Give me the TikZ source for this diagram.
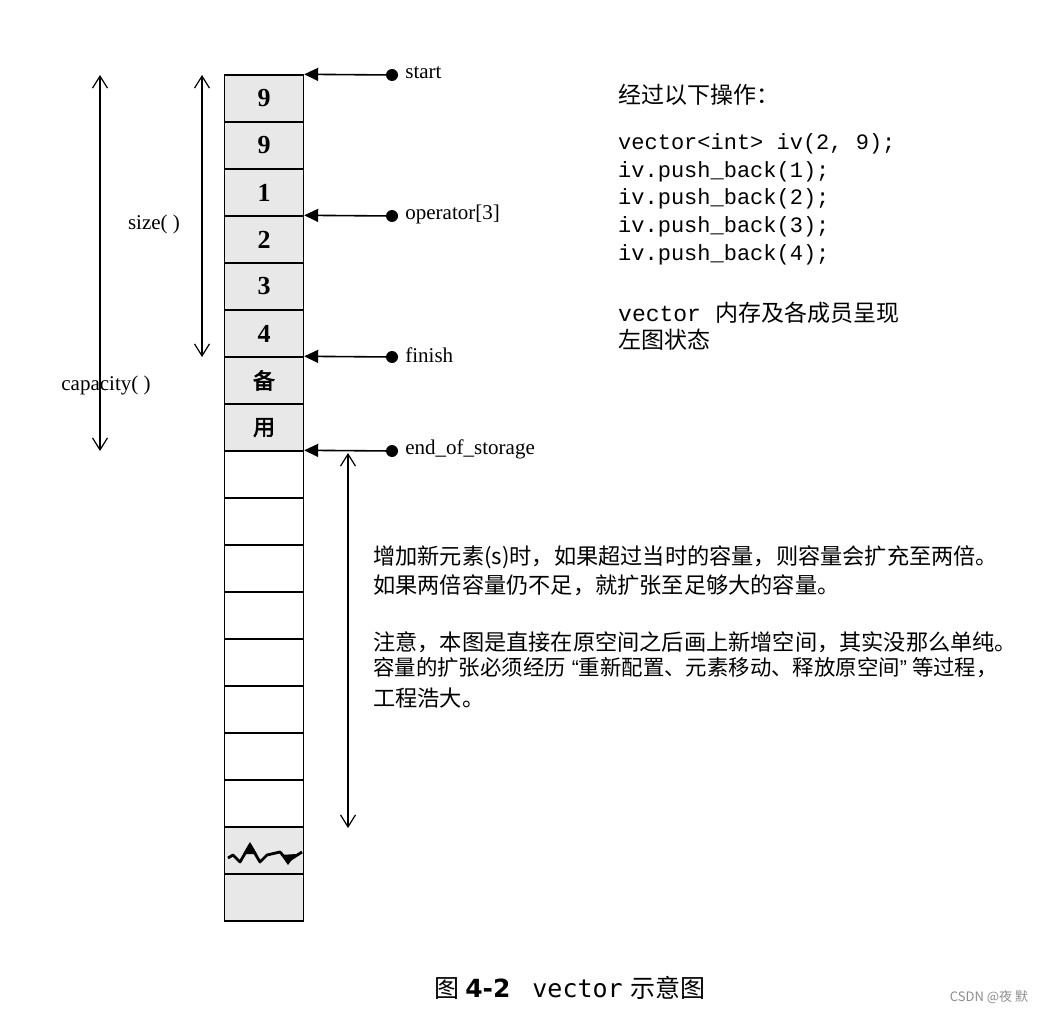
\documentclass[tikz,border=0pt]{standalone}
\usepackage{fontspec}
\setmainfont{Liberation Serif}
\newfontfamily\cjk{Noto Sans CJK SC}
\newfontfamily\cjkbold[FakeBold=2.5]{Noto Sans CJK SC}
\newfontfamily\codefont{Liberation Mono}
\newfontfamily\quotefont{Liberation Sans}
\newfontfamily\capsans{DejaVu Sans}
\newfontfamily\capmono{DejaVu Sans Mono}
\usepackage{tikz}
\usetikzlibrary{positioning, arrows.meta}

\tikzset{
  cell/.style={draw, line width=1.4pt, minimum width=79pt, minimum height=47pt, inner sep=0pt},
  used/.style={fill=black!9},
  ptrdot/.style={circle, fill, inner sep=0pt, minimum size=12pt},
  ptr/.style={line width=1.6pt, -{Triangle[length=14pt,width=13pt]}},
  dimarrow/.style={line width=1.2pt, {Straight Barb[length=12pt,width=15pt]}-{Straight Barb[length=12pt,width=15pt]}},
  ptrlabel/.style={font=\fontsize{21}{24}\selectfont, inner sep=0pt},
  note/.style={font=\cjk\fontsize{22.2}{26}\selectfont, anchor=west, inner sep=0pt},
  codeline/.style={font=\codefont\fontsize{22}{26}\selectfont, anchor=base west, inner sep=0pt}
}

\begin{document}
\begin{tikzpicture}[x=1pt, y=-1pt]
    \useasboundingbox (0,0) rectangle (1044,1011);

    % Draw the used cells
    \foreach \i/\v in {1/9, 2/9, 3/1, 4/2, 5/3, 6/4}
      \node[cell, used, font=\bfseries\fontsize{26}{26}\selectfont] (c\i) at (264, {51.5+47*\i}) {\v};
    \foreach \i/\v in {7/备, 8/用}
      \node[cell, used, font=\cjkbold\fontsize{22}{22}\selectfont] (c\i) at (264, {51.5+47*\i}) {\v};

    % Draw the free cells
    \foreach \i in {9,...,16}
      \node[cell] (c\i) at (264, {51.5+47*\i}) {};
    \foreach \i in {17, 18}
      \node[cell, used] (c\i) at (264, {51.5+47*\i}) {};

    % Break mark
    \draw[line width=2.8pt, line join=round] (228,858) -- (233,855) -- (240,862) -- (250,845) -- (260,862)
      -- (267,855) -- (280,852) -- (288,861) -- (302,852);
    \fill (243,854) -- (250,842) -- (257,854) -- cycle;
    \fill (281,855) -- (288,865) -- (296,854) -- cycle;

    % Pointers
    \foreach \n/\y/\c/\t in {start/75/1/start, op/216/4/operator[3], finish/357/7/finish, eos/451/9/end\_of\_storage} {
      \node[ptrdot] (p\n) at (392,\y) {};
      \node[ptrlabel, right=7pt of p\n, yshift=2pt] (l\n) {\t};
      \draw[ptr] (p\n) -- (c\c.north east);
    }

    % Sizes
    \coordinate (capT) at (100,75);
    \coordinate (capB) at (100,451);
    \draw[dimarrow] (capT) -- (capB);
    \node[ptrlabel] (lcap) at (106,385) {capacity( )};
    \coordinate (sizeT) at (202,75);
    \coordinate (sizeB) at (202,357);
    \draw[dimarrow] (sizeT) -- (sizeB);
    \node[ptrlabel] (lsize) at (154,224) {size( )};
    \coordinate (growT) at (348,453);
    \coordinate (growB) at (348,828);
    \draw[dimarrow] (growT) -- (growB);

    % Text on the right
    \node[note, font=\cjk\fontsize{23}{26}\selectfont] (ops) at (618,95) {经过以下操作：};
    \foreach \j/\t in {0/{vector<int> iv(2, 9);}, 1/{iv.push\_back(1);}, 2/{iv.push\_back(2);}, 3/{iv.push\_back(3);}, 4/{iv.push\_back(4);}}
      \node[codeline] (code\j) at (618, {150+27.5*\j}) {\t};
    \node[note, font=\cjk\fontsize{23}{26}\selectfont] (state1) at (618,313) {{\codefont vector}\hspace{14pt}内存及各成员呈现};
    \node[note, font=\cjk\fontsize{23}{26}\selectfont] (state2) at (618,340) {左图状态};

    \node[note] (n1) at (373,557) {增加新元素(s)时，如果超过当时的容量，则容量会扩充至两倍。};
    \node[note] (n2) at (373,585) {如果两倍容量仍不足，就扩张至足够大的容量。};
    \node[note] (n3) at (373,642) {注意，本图是直接在原空间之后画上新增空间，其实没那么单纯。};
    \node[note, font=\cjk\fontsize{21.4}{26}\selectfont] (n4) at (373,668)
      {容量的扩张必须经历\hspace{6pt}{\quotefont “}重新配置、元素移动、释放原空间{\quotefont ”}\hspace{5pt}等过程，};
    \node[note] (n5) at (373,698) {工程浩大。};

    % Caption
    \node[font=\fontsize{25}{25}\selectfont] (cap) at (570,988)
      {{\cjk 图}\hspace{6pt}{\capsans\bfseries 4-2}\hspace{22pt}{\capmono vector}\hspace{8pt}{\cjk 示意图}};
    \node[font=\cjk\fontsize{13}{13}\selectfont, text=black!45] (mark) at (989,997) {CSDN @夜 默};

  \end{tikzpicture}
\end{document}
